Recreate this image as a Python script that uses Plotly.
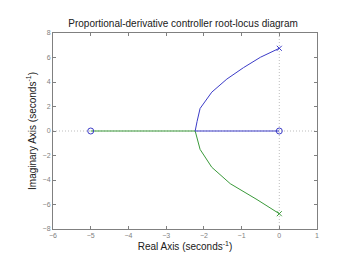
import plotly.graph_objects as go

# Branch 1 (blue): from pole at +6.75j to breakaway, then along real axis to zero at 0
blue_re = [0, -0.50, -0.95, -1.39, -1.79, -2.10, -2.18, -2.23, -1.5, -0.75, 0]
blue_im = [6.75, 6.02, 5.17, 4.24, 3.17, 1.84, 0.78, 0, 0, 0, 0]
# Branch 2 (green): from pole at -6.75j to breakaway, then along real axis to zero at -5
green_re = [0, -0.59, -1.30, -1.79, -2.10, -2.18, -2.23, -3.0, -4.0, -5]
green_im = [-6.75, -5.6, -4.3, -2.96, -1.5, -0.7, 0, 0, 0, 0]

poles_re = [0, 0]
poles_im = [6.75, -6.75]
zeros_re = [0, -5]
zeros_im = [0, 0]

x_ticks = [-6, -5, -4, -3, -2, -1, 0, 1]
y_ticks = [-8, -6, -4, -2, 0, 2, 4, 6, 8]

BLUE = "#3c3cc8"
GREEN = "#3a9a3a"
GRAY = "#808080"

fig = go.Figure()
# dotted reference axes
fig.add_trace(go.Scatter(x=[-6, 1], y=[0, 0], mode="lines",
                         line=dict(color="#bdbdbd", width=1, dash="1px,2px"), hoverinfo="skip"))
fig.add_trace(go.Scatter(x=[0, 0], y=[-8, 8], mode="lines",
                         line=dict(color="#bdbdbd", width=1, dash="1px,2px"), hoverinfo="skip"))
fig.add_trace(go.Scatter(x=green_re, y=green_im, mode="lines",
                         line=dict(color=GREEN, width=1)))
fig.add_trace(go.Scatter(x=blue_re, y=blue_im, mode="lines",
                         line=dict(color=BLUE, width=1)))
fig.add_trace(go.Scatter(x=poles_re, y=poles_im, mode="markers",
                         marker=dict(symbol="x-thin", size=5,
                                     line=dict(color=[BLUE, GREEN], width=1))))
fig.add_trace(go.Scatter(x=zeros_re, y=zeros_im, mode="markers",
                         marker=dict(symbol="circle-open", size=6,
                                     color=BLUE, line=dict(color=BLUE, width=1))))

axis_common = dict(showgrid=False, zeroline=False, showline=True, linecolor=GRAY,
                   linewidth=1, mirror="ticks", ticks="inside", ticklen=3,
                   tickcolor=GRAY, tickfont=dict(size=7, color="#808080",
                                                 family="Liberation Sans"))

fig.update_layout(
    width=350, height=262,
    margin=dict(l=53, r=33, t=33, b=29),
    paper_bgcolor="white", plot_bgcolor="white",
    showlegend=False,
    title=dict(text="Proportional-derivative controller root-locus diagram",
               x=0.523, xanchor="center", y=0.91, yanchor="middle",
               font=dict(size=10, color="#202020", family="Liberation Sans")),
    xaxis=dict(range=[-6, 1], tickvals=x_ticks,
               title=dict(text="Real Axis (seconds<sup>-1</sup>)", standoff=4,
                          font=dict(size=10, color="#202020", family="Liberation Sans")),
               **axis_common),
    yaxis=dict(range=[-8, 8], tickvals=y_ticks,
               title=dict(text="Imaginary Axis (seconds<sup>-1</sup>)", standoff=4,
                          font=dict(size=10, color="#202020", family="Liberation Sans")),
               **axis_common),
)

fig.write_html("out.html")
